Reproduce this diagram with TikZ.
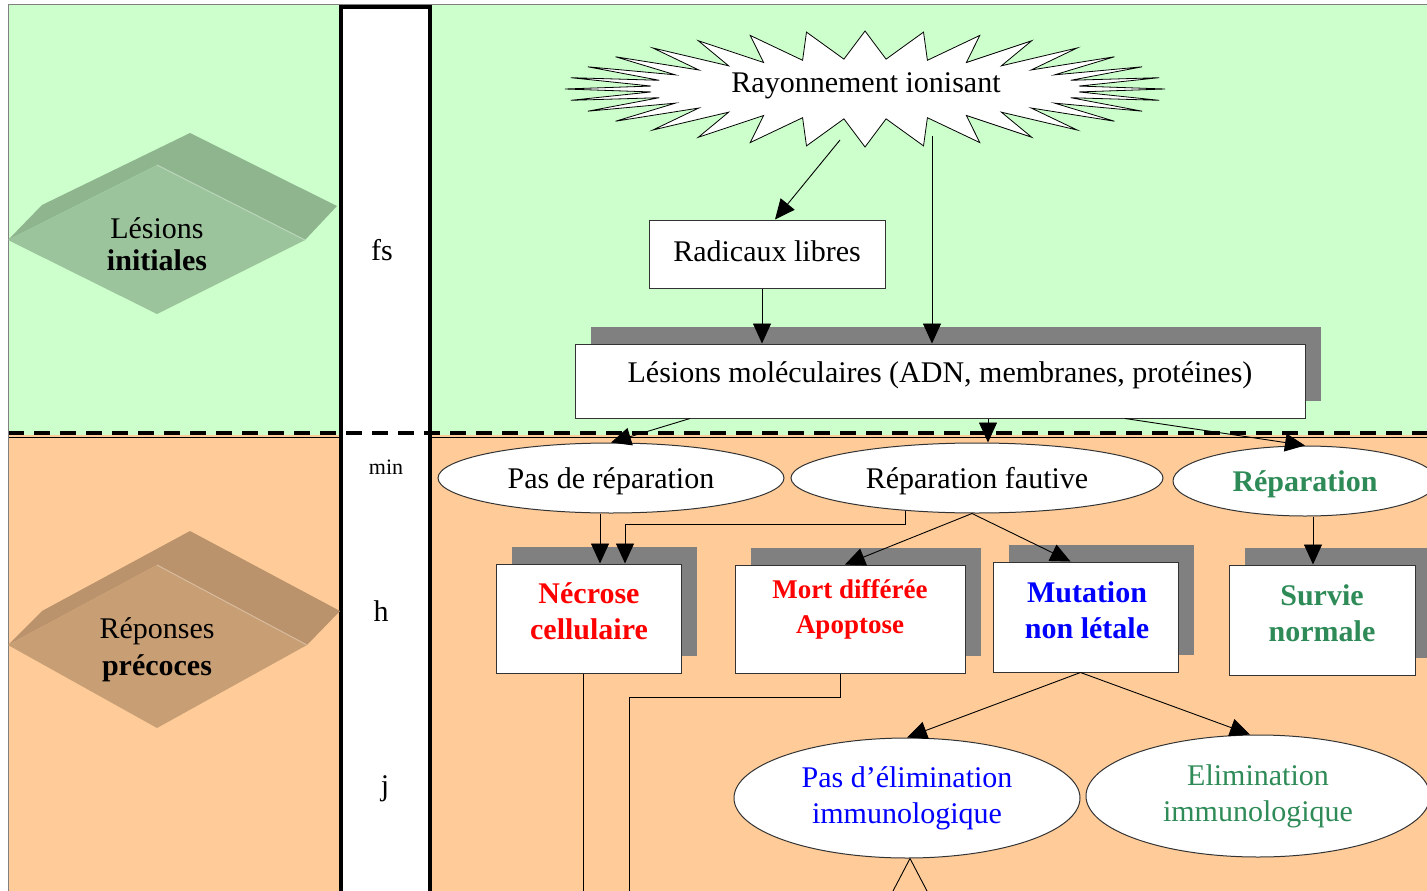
\documentclass[tikz,border=0pt]{standalone}
\usepackage{fontspec}
\setmainfont{Liberation Serif}
\usetikzlibrary{arrows.meta,shapes.geometric,shadows,calc}
\definecolor{bggreen}{RGB}{204,255,204}
\definecolor{bgorange}{RGB}{255,204,153}
\definecolor{dmgreenA}{RGB}{143,181,143}
\definecolor{dmgreenB}{RGB}{156,196,156}
\definecolor{dmorangeA}{RGB}{186,147,108}
\definecolor{dmorangeB}{RGB}{200,158,116}
\definecolor{shadowgray}{RGB}{128,128,128}
\definecolor{seagreen}{RGB}{46,139,87}
\tikzset{
  every node/.style={font=\fontsize{30}{36}\selectfont},
  plainbox/.style={draw=black!80, line width=1pt, fill=white, inner sep=0pt},
  boxnode/.style={plainbox,
    drop shadow={shadow xshift=16pt,shadow yshift=17pt,fill=shadowgray,opacity=1}},
  ellnode/.style={ellipse, draw=black!80, line width=1pt, fill=white, inner sep=0pt, align=center},
  txt/.style={align=center, inner sep=0pt},
  boldtxt/.style={txt, font=\fontsize{30}{36}\selectfont\bfseries},
  conn/.style={line width=0.9pt},
  arr/.style={conn, -{Triangle[length=20pt,width=18pt]}},
  timelbl/.style={inner sep=0pt},
}
\begin{document}
\begin{tikzpicture}[x=1pt,y=-1pt]
\useasboundingbox (0,0) rectangle (1427,891);
\clip (0,0) rectangle (1427,891);
% backgrounds
\fill[bggreen] (8,5) rectangle (1427,435);
\fill[bgorange] (8,435) rectangle (1427,891);
\fill[white] (341,7) rectangle (430,891);
\draw[line width=1pt] (8,437) -- (341,437);
\draw[line width=1pt] (430,437) -- (1427,437);
\draw[line width=4pt, dash pattern=on 16pt off 10pt] (8,433) -- (1427,433);
\draw[gray, line width=1pt] (8,891) -- (8,5) -- (1427,5);
\draw[line width=4pt, line join=miter] (341,891) -- (341,7) -- (430,7) -- (430,891);

% diamonds
\fill[dmgreenA] (8,240) -- (42,205) -- (190,133) -- (337,206) -- (305,240) -- (157,165) -- cycle;
\fill[dmgreenB] (8,240) -- (157,165) -- (305,240) -- (157,314) -- cycle;
\draw[dmgreenB!70!white, line width=1pt] (157,165) -- (305,240);
\node[txt, font=\fontsize{30}{32}\selectfont] (dlA) at (157,244) {Lésions\\\textbf{initiales}};

\fill[dmorangeA] (8,645) -- (42,611) -- (190,531) -- (340,611) -- (307,645) -- (157,565) -- cycle;
\fill[dmorangeB] (8,645) -- (157,565) -- (307,645) -- (157,728) -- cycle;
\draw[dmorangeB!70!white, line width=1pt] (157,565) -- (307,645);
\node[txt, font=\fontsize{30}{37}\selectfont] (dlB) at (157,650) {Réponses\\\textbf{précoces}};

% time labels
\node[timelbl] (tfs) at (382,250) {fs};
\node[timelbl, font=\fontsize{22}{26}\selectfont] (tmin) at (386,467) {min};
\node[timelbl] (th) at (381,611) {h};
\node[timelbl] (tj) at (385,789) {j};

% starburst
\draw[fill=white, line width=0.8pt] plot[samples at={0,...,63}]
  ({865+(257.5+42.5*cos(\x*180))*cos(\x*5.625)},{89+(44+14*cos(\x*180))*sin(\x*5.625)}) -- cycle;
\node[txt] (ray) at (866,86) {Rayonnement ionisant};
\coordinate (rayA) at (840,140);
\coordinate (rayB) at (932,136);

% boxes
\node[plainbox, minimum width=236pt, minimum height=68pt] (rad) at (767,254) {};
\node[txt] (radT) at (767,251) {Radicaux libres};
\node[boxnode, minimum width=730pt, minimum height=74pt] (lesmol) at (940,381) {};
\node[txt] (lesmolT) at (940,375) {Lésions moléculaires (ADN, membranes, protéines)};

\node[boxnode, minimum width=185pt, minimum height=109pt] (necrose) at (588.5,618.5) {};
\node[boldtxt, text=red] (necroseT) at (589,611) {Nécrose\\cellulaire};
\node[boxnode, minimum width=230pt, minimum height=108pt] (mort) at (850,619) {};
\node[boldtxt, text=red, font=\fontsize{27}{35}\selectfont\bfseries] (mortT) at (850,609) {Mort différée\\Apoptose};
\node[boxnode, minimum width=185pt, minimum height=110pt] (mut) at (1085.5,617) {};
\node[boldtxt, text=blue] (mutT) at (1087,610) {Mutation\\non létale};
\node[boxnode, minimum width=186pt, minimum height=110pt] (survie) at (1322,620) {};
\node[boldtxt, text=seagreen] (survieT) at (1322,613) {Survie\\normale};

% ellipses
\node[ellnode, minimum width=346pt, minimum height=70pt, text height=26pt, text depth=6pt] (pasrep) at (611,478) {Pas de réparation};
\node[ellnode, minimum width=372pt, minimum height=70pt, text height=26pt, text depth=6pt] (repf) at (977,478) {Réparation fautive};
\node[ellnode, minimum width=264pt, minimum height=70pt, text height=26pt, text depth=6pt, font=\fontsize{30}{36}\selectfont\bfseries, text=seagreen] (rep) at (1305,481) {Réparation};
\node[ellnode, minimum width=346pt, minimum height=120pt, text=blue] (pasel) at (907,798) {Pas d’élimination\\immunologique};
\node[ellnode, minimum width=344pt, minimum height=122pt, text=seagreen] (elim) at (1258,796) {Elimination\\immunologique};

% connectors
\coordinate (radOut) at ([xshift=-5pt]rad.south);
\draw[arr] (rayA) -- ([xshift=8pt]rad.north);
\draw[arr] (rayB) -- (rayB |- lesmol.north);
\draw[arr] (radOut) -- (radOut |- lesmol.north);

\draw[arr] ([xshift=-250pt]lesmol.south) -- (pasrep.north);
\draw[arr] ([xshift=48pt]lesmol.south) -- ([xshift=11pt]repf.north);
\draw[arr] ([xshift=185pt]lesmol.south) -- (rep.north);

\coordinate (necIn1) at ([xshift=11.5pt]necrose.north);
\coordinate (necIn2) at ([xshift=36.5pt]necrose.north);
\draw[arr] (necIn1 |- pasrep.south) -- (necIn1);
\draw[arr] ([xshift=-72pt,yshift=3pt]repf.south) -- ++(0,14) -| (necIn2);
\draw[arr] ([xshift=-5pt]repf.south) -- ([xshift=-5pt]mort.north);
\draw[arr] ([xshift=-5pt]repf.south) -- ([xshift=-15pt]mut.north);
\draw[arr] ([xshift=8pt]rep.south) -- ([xshift=-9pt]survie.north);

\draw[arr] ([xshift=-5pt]mut.south) -- (pasel.north);
\draw[arr] ([xshift=-5pt]mut.south) -- ([xshift=-8pt]elim.north);

\coordinate (necEnd) at (583,891);
\coordinate (mortEnd) at (629,891);
\coordinate (pelL) at (893,891);
\coordinate (pelR) at (927,891);
\draw[conn] ([xshift=-5.5pt]necrose.south) -- (necEnd);
\draw[conn] ([xshift=-10pt]mort.south) -- ++(0,24) -| (mortEnd);
\draw[conn] ([xshift=3pt]pasel.south) -- (pelL);
\draw[conn] ([xshift=3pt]pasel.south) -- (pelR);
\end{tikzpicture}
\end{document}
